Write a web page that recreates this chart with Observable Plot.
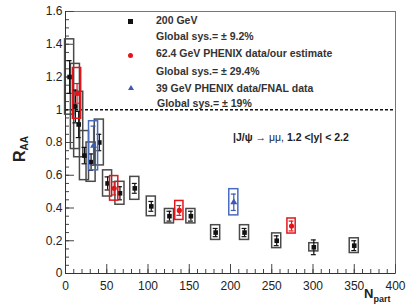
<!DOCTYPE html>
<html>
<head>
<meta charset="utf-8">
<script src="https://cdn.jsdelivr.net/npm/d3@7"></script>
<script src="https://cdn.jsdelivr.net/npm/@observablehq/plot@0.6"></script>
<style>
  body { margin: 0; background: white; }
  #wrap { position: relative; width: 415px; height: 307px; font-family: "Liberation Sans", Arial, sans-serif; color: #222; }
  .ov { position: absolute; white-space: nowrap; line-height: 1; }
  .leg { font-size: 10.5px; font-weight: bold; color: #333; }
</style>
</head>
<body>
<div id="wrap"></div>
<script>
// 200 GeV
const npart200 = [5, 12, 16, 23, 31, 41, 51, 66, 84, 104, 126, 152, 182, 217, 256, 301, 350];
const raa200   = [1.20, 1.02, 0.91, 0.72, 0.68, 0.80, 0.55, 0.49, 0.52, 0.41, 0.35, 0.35, 0.25, 0.25, 0.20, 0.16, 0.17];
const stat200  = [0.10, 0.10, 0.08, 0.05, 0.05, 0.05, 0.04, 0.04, 0.03, 0.03, 0.03, 0.03, 0.025, 0.025, 0.03, 0.045, 0.03];
const sys200   = [0.23, 0.26, 0.20, 0.15, 0.12, 0.14, 0.08, 0.07, 0.07, 0.06, 0.044, 0.044, 0.045, 0.045, 0.045, 0.025, 0.045];
// 62.4 GeV
const npart62 = [14, 59, 138, 274];
const raa62   = [1.10, 0.52, 0.385, 0.29];
const stat62  = [0.06, 0.04, 0.03, 0.03];
const sys62   = [0.155, 0.075, 0.058, 0.046];
// 39 GeV
const npart39 = [34, 204];
const raa39   = [0.78, 0.435];
const stat39  = [0.12, 0.05];
const sys39   = [0.15, 0.08];

const yMajor = [0, 0.2, 0.4, 0.6, 0.8, 1, 1.2, 1.4, 1.6];
const yLabels = ["0", "0.2", "0.4", "0.6", "0.8", "1", "1.2", "1.4", "1.6"];
const yMinor = d3.range(0, 33).map(i => i * 0.05);
const xMajor = [0, 50, 100, 150, 200, 250, 300, 350, 400];
const xLabels = ["0", "50", "100", "150", "200", "250", "300", "350", "400"];
const xMinor = d3.range(0, 41).map(i => i * 10);

function rows(n, r, s, y) { return n.map((v, i) => ({n: v, r: r[i], st: s[i], sy: y[i]})); }
const d200 = rows(npart200, raa200, stat200, sys200);
const d62 = rows(npart62, raa62, stat62, sys62);
const d39 = rows(npart39, raa39, stat39, sys39);

function series(data, color, boxColor, symbol, hw) {
  return [
    Plot.rectY(data, {x1: d => d.n - hw, x2: d => d.n + hw, y1: d => d.r - d.sy, y2: d => d.r + d.sy, fill: "none", stroke: boxColor, strokeWidth: 1.5}),
    Plot.ruleX(data, {x: "n", y1: d => d.r - d.st, y2: d => d.r + d.st, stroke: color, strokeWidth: 1.2}),
    Plot.ruleY(data, {y: d => d.r - d.st, x1: d => d.n - 3, x2: d => d.n + 3, stroke: color, strokeWidth: 1.2}),
    Plot.ruleY(data, {y: d => d.r + d.st, x1: d => d.n - 3, x2: d => d.n + 3, stroke: color, strokeWidth: 1.2}),
    Plot.dot(data, {x: "n", y: "r", symbol, r: 2.6, fill: color, stroke: "none"})
  ];
}

const chart = Plot.plot({
  width: 415, height: 307,
  marginLeft: 65, marginRight: 20, marginTop: 11, marginBottom: 34,
  x: {domain: [0, 400]},
  y: {domain: [0, 1.6]},
  style: {fontFamily: "Liberation Sans, Arial, sans-serif", fontSize: "12px", color: "#222", background: "white", overflow: "visible"},
  marks: [
    Plot.frame({stroke: "#777", strokeWidth: 1}),
    Plot.axisY({ticks: yMinor, tickSize: -4, text: null, label: null, stroke: "#444"}),
    Plot.axisY({ticks: yMajor, tickSize: -9, text: null, label: null, stroke: "#444"}),
    Plot.axisY({ticks: yMajor, tickSize: 0, tickPadding: 3, tickFormat: (d, i) => yLabels[i], label: null}),
    Plot.axisX({ticks: xMinor, tickSize: -4, text: null, label: null, stroke: "#444"}),
    Plot.axisX({ticks: xMajor, tickSize: -9, text: null, label: null, stroke: "#444"}),
    Plot.axisX({ticks: xMajor, tickSize: 0, tickPadding: 8, tickFormat: (d, i) => xLabels[i], label: null}),
    Plot.ruleY([0], {stroke: "#333"}),
    Plot.ruleX([0], {stroke: "#333"}),
    Plot.ruleY([1], {stroke: "#111", strokeWidth: 1.5, strokeDasharray: "3,2"}),
    ...series(d200, "#111", "#4a4a4a", "square", 5.5),
    ...series(d39, "#3a5bb0", "#4a6cc0", "triangle", 5.5),
    ...series(d62, "#e3151b", "#e3151b", "circle", 5)
  ]
});
const wrap = document.getElementById("wrap");
wrap.appendChild(chart);

const overlay = `
<div class="ov" style="left:12px; top:162px; transform-origin:0 0; transform:rotate(-90deg); font-weight:bold; font-size:16px; color:#222;">R<sub style="font-size:10px; vertical-align:-3px;">AA</sub></div>
<div class="ov" style="left:364px; top:287px; font-weight:bold; font-size:13px; color:#222;">N<sub style="font-size:9px; vertical-align:-4px;">part</sub></div>
<div class="ov" style="left:233px; top:132px; font-size:10.5px; color:#222;"><b>|J/ψ</b> → μμ, <b>1.2 &lt;|y| &lt; 2.2</b></div>
<div class="ov" style="left:128px; top:19px; width:5px; height:5px; background:#111;"></div>
<div class="ov" style="left:128px; top:53px; width:5px; height:5px; border-radius:50%; background:#e3151b;"></div>
<div class="ov" style="left:128px; top:85px; width:0; height:0; border-left:3px solid transparent; border-right:3px solid transparent; border-bottom:5px solid #3a5bb0;"></div>
<div class="ov leg" style="left:156px; top:15px;">200 GeV</div>
<div class="ov leg" style="left:156px; top:31px;">Global sys.= ± 9.2%</div>
<div class="ov leg" style="left:156px; top:48px;">62.4 GeV PHENIX data/our estimate</div>
<div class="ov leg" style="left:156px; top:66px;">Global sys.= ± 29.4%</div>
<div class="ov leg" style="left:156px; top:83px;">39 GeV PHENIX data/FNAL data</div>
<div class="ov leg" style="left:157px; top:98px;">Global sys.= ± 19%</div>
`;
wrap.insertAdjacentHTML("beforeend", overlay);
</script>
</body>
</html>
